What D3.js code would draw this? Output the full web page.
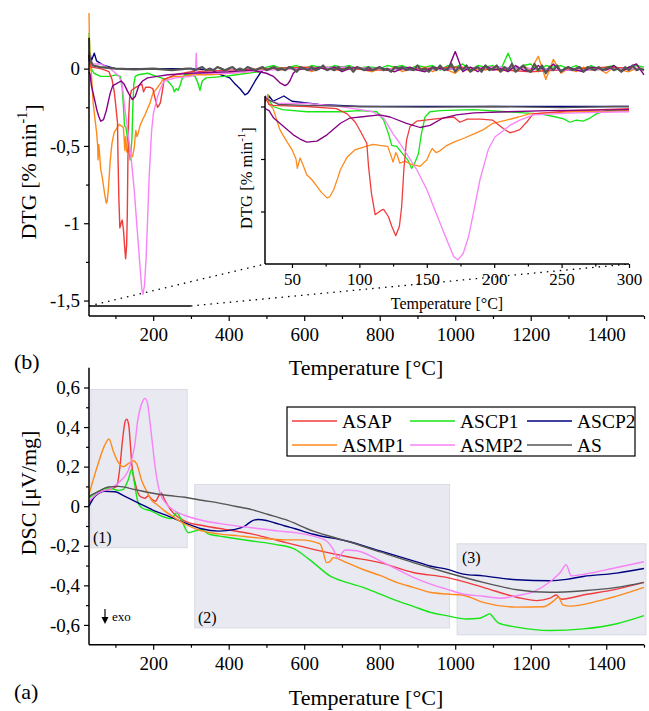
<!DOCTYPE html>
<html>
<head>
<meta charset="utf-8">
<script src="https://cdn.jsdelivr.net/npm/d3@7"></script>
<style>
  body { margin: 0; background: #fff; }
  svg { display: block; font-family: "Liberation Serif", "Times New Roman", serif; }
</style>
</head>
<body>
<svg id="chart" width="649" height="711"></svg>
<script>
// ---- series names and colours ----
const names = ["ASAP", "ASCP1", "ASCP2", "ASMP1", "ASMP2", "AS"];
const colors = {
  ASAP: "#f03c3c", ASCP1: "#16e516", ASCP2: "#00007f",
  ASMP1: "#ff8a1c", ASMP2: "#f882f8", AS: "#555555", extra: "#850085"
};

// ---- ticks ----
const xTicks = [200, 400, 600, 800, 1000, 1200, 1400];
const xMinor = [100, 300, 500, 700, 900, 1100, 1300, 1500];
const dtgTicks = [0, -0.5, -1, -1.5];
const dtgMinor = [-0.25, -0.75, -1.25];
const dscTicks = [0.6, 0.4, 0.2, 0, -0.2, -0.4, -0.6];
const dscMinor = [0.5, 0.3, 0.1, -0.1, -0.3, -0.5];
const insetXTicks = [50, 100, 150, 200, 250, 300];
const insetXMinor = [75, 125, 175, 225, 275];
const insetYTicks = [0, -0.5, -1];

// ---- DTG curves [T, %/min] (shape part) ----
const dtgASMP1 = [[30,0.36],[31,0.2],[33,0.02],[36,-0.02],[41,-0.22],[46,-0.33],[50,-0.41],[53,-0.5],[54,-0.59],[56,-0.49],[58,-0.55],[61,-0.65],[65,-0.7],[68.5,-0.76],[72,-0.82],[76,-0.87],[78,-0.86],[81,-0.79],[84,-0.68],[86,-0.6],[91,-0.48],[97,-0.41],[105,-0.38],[110,-0.36],[115,-0.37],[121,-0.38],[123,-0.45],[125,-0.53],[127,-0.44],[128,-0.46],[130,-0.54],[134,-0.52],[138,-0.55],[142,-0.56],[145,-0.57],[150,-0.51],[152,-0.45],[154,-0.4],[157,-0.44],[160,-0.42],[165,-0.37],[170,-0.34],[178,-0.3],[185,-0.26],[192,-0.22],[199,-0.16],[209,-0.13],[218,-0.1],[226,-0.07],[240,-0.06],[258,-0.05],[280,-0.05],[300,-0.04],[350,-0.04],[400,-0.03],[450,-0.02],[490,-0.01]];
const dtgASAP = [[30,0.09],[33,0.02],[36,0.01],[61,0],[83,-0.02],[91,-0.07],[97,-0.15],[101,-0.24],[103,-0.29],[105.5,-0.35],[106.8,-0.57],[109,-0.83],[111.7,-1.03],[114,-1.01],[116,-0.99],[118,-0.98],[121.6,-1.05],[124,-1.14],[127,-1.23],[129.7,-1.14],[131.4,-0.95],[133,-0.6],[135,-0.32],[137.6,-0.19],[142.5,-0.14],[155,-0.12],[170,-0.1],[174.6,-0.15],[180,-0.12],[190,-0.12],[199,-0.13],[206.7,-0.21],[211.6,-0.25],[215,-0.24],[219,-0.22],[224,-0.15],[229,-0.07],[258,-0.04],[300,-0.02],[400,-0.01],[500,0],[600,0.01],[800,-0.01],[1000,0.01],[1200,-0.02],[1400,0.01],[1500,0]];
const dtgASMP2 = [[30,0.11],[33,0.06],[40,0.03],[61,0.03],[86,0],[100.6,-0.03],[110,-0.05],[118,-0.11],[125,-0.26],[130,-0.35],[135,-0.45],[142.5,-0.6],[150,-0.79],[157,-1.02],[164.8,-1.27],[170,-1.43],[173,-1.46],[177,-1.4],[181,-1.24],[184.5,-1.02],[189.4,-0.7],[195.6,-0.41],[200.5,-0.29],[206.7,-0.23],[211.6,-0.18],[219,-0.13],[229,-0.08],[260,-0.06],[300,-0.05],[312,-0.04],[314,0.1],[316,-0.03],[400,-0.03],[450,-0.02],[500,-0.01],[700,0.01],[900,-0.01],[1100,0.01],[1300,-0.01],[1500,0]];
const dtgASCP1 = [[30,0.23],[31,0.19],[33,0.06],[36,0],[43,-0.03],[61,-0.05],[86,-0.05],[100,-0.04],[113,-0.05],[118,-0.13],[121.6,-0.26],[124,-0.37],[127.7,-0.38],[132.7,-0.46],[136,-0.51],[138.8,-0.59],[141,-0.54],[143.8,-0.45],[146,-0.26],[148.7,-0.1],[152.4,-0.05],[160,-0.04],[185,-0.03],[209,-0.05],[234,-0.07],[246,-0.1],[252,-0.12],[256,-0.15],[261,-0.13],[266,-0.14],[271,-0.11],[275.8,-0.07],[283,-0.04],[300,-0.04],[311,-0.05],[318,-0.09],[324,-0.14],[330,-0.08],[340,-0.06],[389,-0.05],[420,-0.04],[480,-0.02]];
const dtgASCP2 = [[30,0.05],[33,0.1],[36,0.05],[44,0.1],[50,0.05],[70,0.02],[100,0],[300,0],[355,-0.01],[380,-0.04],[403,-0.06],[417,-0.1],[430,-0.13],[443,-0.17],[450,-0.16],[456,-0.14],[470,-0.08],[483,-0.03],[495,0],[700,0.01],[900,-0.01],[1100,0.01],[1300,-0.01],[1500,0]];
const dtgAS = [[30,0.09],[33,0.06],[40,0.02],[60,0.01],[100,0],[150,-0.005],[200,0],[250,-0.01],[290,0]];
const dtgExtra = [[30,-0.02],[33,-0.04],[36.4,-0.11],[43.8,-0.19],[51,-0.27],[56,-0.31],[61,-0.34],[68.5,-0.33],[76,-0.27],[86,-0.16],[93,-0.11],[100.6,-0.1],[115,-0.08],[122.8,-0.1],[135,-0.16],[145,-0.2],[152.4,-0.18],[162,-0.11],[172,-0.08],[185,-0.06],[210,-0.05],[240,-0.04],[300,-0.03],[400,-0.02],[460,-0.01],[480,-0.02],[500,-0.03],[518,-0.05],[535,-0.09],[549,-0.11],[556,-0.1],[562,-0.08],[571,-0.03],[580,-0.01]];

// ---- DTG baseline noise, in 0.01 %/min ----
// AS: 300..1500 every 10 degC
const noiseAS = [0,-1,0,1,-1,0,-1,1,0,-1, 0,1,-1,0,-1,1,0,-1,0,1, -1,0,1,-1,0,-1,1,0,-2,1, 0,-1,1,-1,0,2,-1,0,-1,1,
  -1,0,1,-2,1,0,-1,1,-1,0, 1,-1,0,-2,1,0,1,-1,0,-1, 2,-1,0,-2,1,-1,2,-1,0,3, -2,1,-1,2,-2,0,1,-2,2,-1,
  0,2,-2,1,-1,3,-2,0,2,-1, -2,3,-1,2,-3,1,-1,2,-2,0, 1,-1,0,1,-2,1,0,-1,1,-1, 0,1,-1,0,-2,1,-1,2,-1,0, -1];
// ASCP1 and ASMP1: 500..1500 every 20 degC
const noiseASCP1 = [1,2,0,1,2,0,2,1,0,2, 1,2,0,1,1,0,2,1,2,0, 2,1,2,-1,2,1,3,-1,2,1, 2,-1,10,-2,2,3,-2,2,1,2, 0,2,-1,2,0,1,2,-1,1,2, 1];
const noiseASMP1 = [-1,0,-1,1,-1,0,-2,0,1,-1, -1,0,1,-1,-2,0,-1,1,-2,0, -1,1,-2,0,-1,-3,1,-2,0,-1, 1,-2,0,-2,2,-1,8,-7,6,-3, 0,-2,1,-1,0,-3,1,-1,-2,0, -1];
// extra (purple): 600..1500 every 20 degC
const noiseExtra = [0,-1,1,-1,1,-2,0,1,-1,-1, 1,-1,-2,0,1,-1,-2,1,0,-1, 11,-2,1,-2,2,-1,0,-2,2,-1, -2,2,-2,3,-2,1,-1,-2,1,0, -1,2,-2,1,3,-4];

// ---- DSC curves [T, uV/mg] ----
const dscASAP = [[30,0.02],[55,0.067],[81,0.084],[103,0.1],[112,0.2],[117,0.3],[121,0.37],[126,0.43],[130,0.44],[133,0.43],[136,0.4],[140,0.3],[143,0.22],[152,0.12],[165,0.05],[178,0.04],[187,0.053],[196,0.035],[206.5,0.025],[214,0.05],[221,0.067],[231,0.03],[249,-0.025],[284,-0.075],[337,-0.1],[390,-0.117],[461,-0.14],[535,-0.176],[624,-0.218],[712,-0.254],[801,-0.285],[889,-0.335],[977,-0.36],[1074,-0.41],[1163,-0.46],[1216,-0.477],[1251,-0.465],[1267,-0.449],[1282,-0.47],[1339,-0.449],[1428,-0.419],[1500,-0.385]];
const dscASCP1 = [[30,0.042],[55,0.075],[81,0.092],[108,0.08],[121,0.085],[134,0.134],[143,0.184],[150,0.12],[159,0.025],[169.5,-0.008],[196,-0.025],[222,-0.05],[249,-0.063],[262,-0.033],[275,-0.07],[293,-0.134],[311,-0.125],[328,-0.117],[346,-0.14],[372.5,-0.15],[399,-0.158],[461,-0.176],[523,-0.193],[576,-0.218],[589,-0.234],[624,-0.285],[668,-0.352],[712,-0.385],[756,-0.41],[801,-0.444],[845,-0.477],[889,-0.506],[933,-0.536],[977,-0.553],[1030,-0.57],[1065,-0.566],[1078,-0.556],[1092,-0.544],[1100,-0.56],[1114,-0.59],[1163,-0.611],[1251,-0.628],[1339,-0.62],[1428,-0.594],[1500,-0.553]];
const dscASCP2 = [[30,0],[46,0.05],[72,0.075],[99,0.073],[125,0.05],[152,0.025],[178,0],[205,-0.025],[240,-0.05],[284,-0.084],[328,-0.114],[372.5,-0.126],[417,-0.117],[443,-0.1],[461,-0.075],[478,-0.067],[500,-0.072],[523,-0.085],[549,-0.1],[576,-0.114],[624,-0.142],[712,-0.176],[801,-0.226],[889,-0.276],[933,-0.302],[977,-0.318],[1021,-0.343],[1074,-0.352],[1163,-0.372],[1251,-0.377],[1295,-0.37],[1339,-0.355],[1428,-0.338],[1500,-0.315]];
const dscASMP1 = [[30,0.06],[55,0.22],[72,0.31],[83,0.34],[94,0.28],[108,0.22],[121,0.2],[134,0.215],[147,0.23],[156,0.215],[169.5,0.13],[183,0.075],[196,0.03],[209,0.01],[231,-0.025],[258,-0.06],[284,-0.09],[320,-0.12],[372,-0.14],[425,-0.15],[478,-0.16],[549,-0.17],[589,-0.17],[642,-0.19],[650,-0.23],[659,-0.285],[668,-0.28],[677,-0.26],[712,-0.285],[756,-0.32],[801,-0.35],[845,-0.385],[889,-0.41],[933,-0.435],[977,-0.444],[1021,-0.45],[1074,-0.486],[1163,-0.51],[1233,-0.508],[1260,-0.48],[1273,-0.46],[1286,-0.5],[1304,-0.505],[1383,-0.477],[1445,-0.444],[1500,-0.41]];
const dscASMP2 = [[30,0.025],[55,0.067],[90,0.092],[116.5,0.134],[134,0.18],[145,0.25],[152,0.32],[158,0.42],[165,0.49],[172,0.53],[178,0.545],[185,0.52],[190,0.45],[196,0.35],[206.5,0.18],[218,0.067],[236,0.01],[258,-0.025],[284,-0.047],[337,-0.075],[390,-0.092],[461,-0.109],[535,-0.126],[580,-0.135],[624,-0.151],[659,-0.176],[677,-0.218],[690,-0.264],[699,-0.24],[708,-0.221],[739,-0.225],[801,-0.276],[845,-0.318],[889,-0.36],[933,-0.393],[977,-0.419],[1021,-0.444],[1074,-0.455],[1118,-0.465],[1163,-0.452],[1207,-0.432],[1251,-0.382],[1278,-0.335],[1294,-0.296],[1307,-0.352],[1339,-0.345],[1428,-0.31],[1500,-0.281]];
const dscAS = [[30,0.05],[55,0.075],[81,0.097],[108,0.1],[152,0.084],[196,0.067],[240,0.054],[284,0.045],[328,0.03],[372.5,0.017],[417,0],[461,-0.017],[505,-0.042],[549,-0.067],[624,-0.126],[712,-0.176],[801,-0.231],[889,-0.285],[977,-0.335],[1074,-0.385],[1163,-0.422],[1251,-0.435],[1339,-0.427],[1428,-0.41],[1500,-0.385]];

// shaded regions in DSC panel [T0, T1, v0, v1]
const regions = [[35, 290, -0.21, 0.59], [310, 985, -0.615, 0.11], [1005, 1505, -0.65, -0.19]];

// append baseline noise (typed values) on a regular temperature grid
function withNoise(shape, start, step, noise) {
  return shape.concat(noise.map((n, i) => [start + i * step, n / 100]));
}

const dtgSeries = [
  { key: "ASCP2", data: dtgASCP2 },
  { key: "ASCP1", data: withNoise(dtgASCP1, 500, 20, noiseASCP1) },
  { key: "ASMP1", data: withNoise(dtgASMP1, 500, 20, noiseASMP1) },
  { key: "ASAP", data: dtgASAP },
  { key: "ASMP2", data: dtgASMP2 },
  { key: "extra", data: withNoise(dtgExtra, 600, 20, noiseExtra) },
  { key: "AS", data: withNoise(dtgAS, 300, 10, noiseAS) }
];
const dscSeries = [
  { key: "ASAP", data: dscASAP }, { key: "ASCP1", data: dscASCP1 },
  { key: "ASCP2", data: dscASCP2 }, { key: "ASMP1", data: dscASMP1 },
  { key: "ASMP2", data: dscASMP2 }, { key: "AS", data: dscAS }
];

const svg = d3.select("#chart");
const comma = d => String(d).replace(".", ",");

// ---- scales ----
const x = d3.scaleLinear().domain([30, 1500]).range([89, 644]);
const yTop = d3.scaleLinear().domain([-1.6, 0.2]).range([316, 37.7]);
const yBot = d3.scaleLinear().domain([-0.7, 0.7]).range([644.7, 367.7]);
const xIn = d3.scaleLinear().domain([30, 300]).range([265, 629]);
const yIn = d3.scaleLinear().domain([-1.5, 0.1]).range([264, 96]);

// axes with major + minor ticks, plain axis lines
function drawAxes(g, xs, ys, yMajor, yMinorVals, xMajor, xMinorVals, opt) {
  const y0 = ys.range()[0], x0 = xs.range()[0];
  g.append("g").attr("transform", `translate(0,${y0})`)
    .call(d3.axisBottom(xs).tickValues(xMajor).tickSize(opt.tick).tickPadding(opt.padX).tickFormat(opt.xLabels ? comma : ""));
  g.append("g").attr("transform", `translate(0,${y0})`)
    .call(d3.axisBottom(xs).tickValues(xMinorVals).tickSize(opt.minor).tickFormat(""));
  g.append("g").attr("transform", `translate(${x0},0)`)
    .call(d3.axisLeft(ys).tickValues(yMajor).tickSize(opt.tick).tickPadding(4).tickFormat(opt.yLabels ? comma : ""));
  g.append("g").attr("transform", `translate(${x0},0)`)
    .call(d3.axisLeft(ys).tickValues(yMinorVals).tickSize(opt.minor).tickFormat(""));
  g.selectAll(".domain").remove();
  g.selectAll(".tick line").attr("stroke", "#000").attr("stroke-width", 1.2);
  g.selectAll(".tick text").attr("font-family", "Liberation Serif").attr("font-size", opt.font).attr("fill", "#000");
  g.append("line").attr("x1", x0).attr("x2", xs.range()[1]).attr("y1", y0).attr("y2", y0)
    .attr("stroke", "#000").attr("stroke-width", 1.5);
  g.append("line").attr("x1", x0).attr("x2", x0).attr("y1", ys.range()[1]).attr("y2", y0)
    .attr("stroke", "#000").attr("stroke-width", 1.5);
}

// ===== TOP PANEL: DTG =====
const topG = svg.append("g");
const lineTop = d3.line().x(d => x(d[0])).y(d => yTop(d[1]));
topG.selectAll("path.dtg").data(dtgSeries).join("path")
  .attr("class", "dtg").attr("fill", "none")
  .attr("stroke", d => colors[d.key]).attr("stroke-width", d => d.key === "AS" ? 2.2 : 1.4)
  .attr("stroke-linejoin", "round")
  .attr("d", d => lineTop(d.data));

drawAxes(topG, x, yTop, dtgTicks, dtgMinor, xTicks, xMinor,
  { tick: 5, minor: 3, padX: 7, font: "19px", xLabels: true, yLabels: true });

// zoom marker and dotted connectors
const markV = -1.535;
topG.append("line").attr("x1", x(30)).attr("x2", x(300)).attr("y1", yTop(markV)).attr("y2", yTop(markV))
  .attr("stroke", "#000").attr("stroke-width", 1.5);
[[30, xIn(30)], [300, xIn(300)]].forEach(([t, xi]) => {
  topG.append("line").attr("x1", x(t)).attr("y1", yTop(markV)).attr("x2", xi).attr("y2", yIn(-1.5))
    .attr("stroke", "#000").attr("stroke-width", 1.3).attr("stroke-dasharray", "1.5,5");
});

// ---- inset ----
const inset = svg.append("g");
inset.append("rect").attr("x", 265).attr("y", 94).attr("width", 366).attr("height", 170).attr("fill", "#fff");
svg.append("defs").append("clipPath").attr("id", "inclip")
  .append("rect").attr("x", 265).attr("y", 94).attr("width", 366).attr("height", 170);
const lineIn = d3.line().x(d => xIn(d[0])).y(d => yIn(d[1]));
inset.append("g").attr("clip-path", "url(#inclip)")
  .selectAll("path").data(dtgSeries).join("path")
  .attr("fill", "none").attr("stroke", d => colors[d.key]).attr("stroke-width", 1.3)
  .attr("stroke-linejoin", "round")
  .attr("d", d => lineIn(d.data.filter(p => p[0] <= 305)));
drawAxes(inset, xIn, yIn, insetYTicks, [], insetXTicks, insetXMinor,
  { tick: 4, minor: 2.5, padX: 5, font: "17px", xLabels: true, yLabels: false });
inset.append("text").attr("x", 447).attr("y", 303).attr("text-anchor", "middle").attr("dominant-baseline", "central")
  .attr("font-size", "16px").text("Temperature [°C]");
const inTitle = inset.append("text").attr("transform", "translate(246,178) rotate(-90)")
  .attr("text-anchor", "middle").attr("dominant-baseline", "central").attr("font-size", "16.5px");
inTitle.append("tspan").text("DTG [% min");
inTitle.append("tspan").attr("dy", "-0.45em").attr("font-size", "11px").text("-1");
inTitle.append("tspan").attr("dy", "0.45em").text("]");

// top titles
topG.append("text").attr("x", 366).attr("y", 367).attr("text-anchor", "middle").attr("dominant-baseline", "central")
  .attr("font-size", "22px").text("Temperature [°C]");
const dtgTitle = topG.append("text").attr("transform", "translate(28,172) rotate(-90)")
  .attr("text-anchor", "middle").attr("dominant-baseline", "central").attr("font-size", "22px");
dtgTitle.append("tspan").text("DTG [% min");
dtgTitle.append("tspan").attr("dy", "-0.45em").attr("font-size", "14px").text("-1");
dtgTitle.append("tspan").attr("dy", "0.45em").text("]");
svg.append("text").attr("x", 14).attr("y", 361).attr("dominant-baseline", "central").attr("font-size", "22px").text("(b)");

// ===== BOTTOM PANEL: DSC =====
const bot = svg.append("g");
bot.selectAll("rect.region").data(regions).join("rect").attr("class", "region")
  .attr("x", d => x(d[0])).attr("width", d => x(d[1]) - x(d[0]))
  .attr("y", d => yBot(d[3])).attr("height", d => yBot(d[2]) - yBot(d[3]))
  .attr("fill", "#e8e9f1").attr("stroke", "#d9dae4").attr("stroke-width", 1);

const lineBot = d3.line().x(d => x(d[0])).y(d => yBot(d[1])).curve(d3.curveMonotoneX);
bot.selectAll("path.dsc").data(dscSeries).join("path").attr("class", "dsc")
  .attr("fill", "none").attr("stroke", d => colors[d.key]).attr("stroke-width", 1.4)
  .attr("stroke-linejoin", "round").attr("d", d => lineBot(d.data));

drawAxes(bot, x, yBot, dscTicks, dscMinor, xTicks, xMinor,
  { tick: 5, minor: 3, padX: 7, font: "19px", xLabels: true, yLabels: true });

// region labels
[["(1)", 93, 537], ["(2)", 198, 617], ["(3)", 462, 557]].forEach(([t, tx, ty]) => {
  bot.append("text").attr("x", tx).attr("y", ty).attr("dominant-baseline", "central").attr("font-size", "16px").text(t);
});
// exo arrow
bot.append("line").attr("x1", 105).attr("x2", 105).attr("y1", 609).attr("y2", 619).attr("stroke", "#000").attr("stroke-width", 1.2);
bot.append("path").attr("d", "M101.5,617 L108.5,617 L105,624 Z").attr("fill", "#000");
bot.append("text").attr("x", 112).attr("y", 616).attr("dominant-baseline", "central").attr("font-size", "13px").text("exo");

// legend
const legendRows = [["ASAP", "ASCP1", "ASCP2"], ["ASMP1", "ASMP2", "AS"]];
const legX = [292, 410, 527], legY = [421, 445];
bot.append("rect").attr("x", 287).attr("y", 407).attr("width", 348).attr("height", 49)
  .attr("fill", "#fff").attr("stroke", "#000").attr("stroke-width", 1.2);
legendRows.forEach((row, r) => row.forEach((k, c) => {
  bot.append("line").attr("x1", legX[c]).attr("x2", legX[c] + 45).attr("y1", legY[r]).attr("y2", legY[r])
    .attr("stroke", colors[k]).attr("stroke-width", 1.6);
  bot.append("text").attr("x", legX[c] + 50).attr("y", legY[r]).attr("dominant-baseline", "central")
    .attr("font-size", "19.5px").text(k);
}));

bot.append("text").attr("x", 366).attr("y", 697).attr("text-anchor", "middle").attr("dominant-baseline", "central")
  .attr("font-size", "22px").text("Temperature [°C]");
bot.append("text").attr("transform", "translate(28,493) rotate(-90)")
  .attr("text-anchor", "middle").attr("dominant-baseline", "central").attr("font-size", "22px").text("DSC [μV/mg]");
svg.append("text").attr("x", 14).attr("y", 691).attr("dominant-baseline", "central").attr("font-size", "22px").text("(a)");
</script>
</body>
</html>
